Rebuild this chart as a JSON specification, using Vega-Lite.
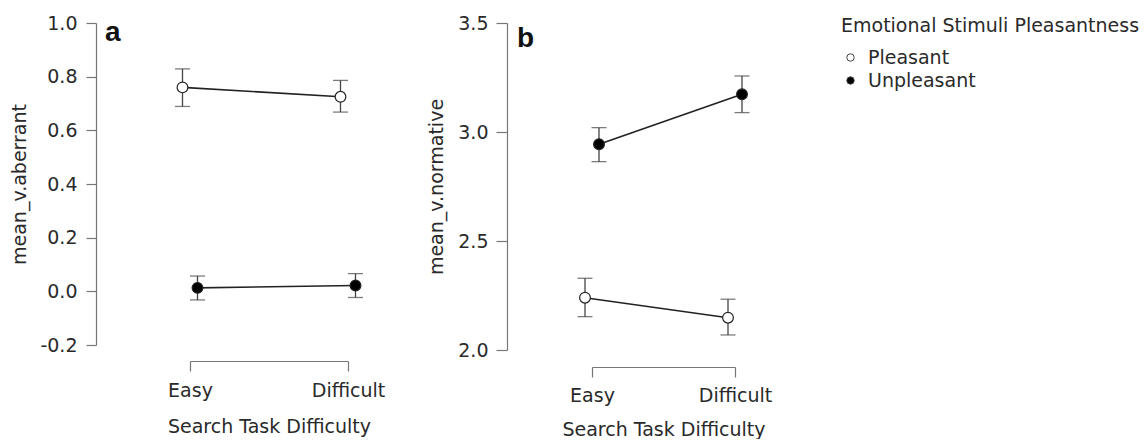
{
  "$schema": "https://vega.github.io/schema/vega-lite/v6.json",
  "background": "white",
  "padding": {"left": 10, "top": 14, "right": 5, "bottom": 0},
  "config": {
    "font": "DejaVu Sans",
    "view": {"stroke": null},
    "axis": {
      "grid": false,
      "domainColor": "#777",
      "tickColor": "#777",
      "domainWidth": 1.2,
      "tickWidth": 1.2,
      "tickSize": 10,
      "labelColor": "#2a2a2a",
      "titleColor": "#2a2a2a",
      "labelFont": "DejaVu Sans",
      "titleFont": "DejaVu Sans",
      "labelFontSize": 19,
      "titleFontSize": 19,
      "titleFontWeight": "normal"
    },
    "title": {"font": "Liberation Sans", "fontWeight": "bold", "fontSize": 28, "color": "#111"}
  },
  "datasets": {
    "a": [
      {"difficulty": "Easy", "pleasantness": "Pleasant", "mean": 0.76, "lo": 0.689, "hi": 0.829},
      {"difficulty": "Difficult", "pleasantness": "Pleasant", "mean": 0.725, "lo": 0.668, "hi": 0.786},
      {"difficulty": "Easy", "pleasantness": "Unpleasant", "mean": 0.013, "lo": -0.032, "hi": 0.057},
      {"difficulty": "Difficult", "pleasantness": "Unpleasant", "mean": 0.022, "lo": -0.023, "hi": 0.066}
    ],
    "b": [
      {"difficulty": "Easy", "pleasantness": "Pleasant", "mean": 2.24, "lo": 2.153, "hi": 2.329},
      {"difficulty": "Difficult", "pleasantness": "Pleasant", "mean": 2.148, "lo": 2.069, "hi": 2.233},
      {"difficulty": "Easy", "pleasantness": "Unpleasant", "mean": 2.944, "lo": 2.864, "hi": 3.02},
      {"difficulty": "Difficult", "pleasantness": "Unpleasant", "mean": 3.173, "lo": 3.089, "hi": 3.257}
    ]
  },
  "bounds": "flush",
  "spacing": 244,
  "resolve": {"scale": {"y": "independent", "x": "independent", "xOffset": "independent"}},
  "hconcat": [
    {
      "width": 158,
      "height": 322,
      "data": {"name": "a"},
      "title": {"text": "a", "anchor": "start", "frame": "group", "orient": "top", "baseline": "alphabetic", "offset": 0, "dx": -85, "dy": 55},
      "encoding": {
        "x": {
          "field": "difficulty", "type": "nominal", "sort": ["Easy", "Difficult"],
          "scale": {"type": "point", "padding": 0},
          "title": "Search Task Difficulty",
          "axis": {"labelAngle": 0, "offset": 16, "labelPadding": 10, "titlePadding": 17}
        },
        "xOffset": {
          "field": "pleasantness", "type": "nominal",
          "scale": {"type": "point", "domain": ["Pleasant", "Unpleasant"], "range": [-7.5, 7.5], "padding": 0}
        }
      },
      "layer": [
        {
          "mark": {"type": "line", "color": "#222", "strokeWidth": 1.6},
          "encoding": {
            "y": {
              "field": "mean", "type": "quantitative", "title": "mean_v.aberrant",
              "scale": {"domain": [-0.2, 1.0], "nice": false, "zero": false},
              "axis": {"values": [-0.2, 0, 0.2, 0.4, 0.6, 0.8, 1.0], "offset": 94, "labelPadding": 9, "titlePadding": 10,
                       "labelExpr": "datum.value < 0 ? '-' + format(-datum.value, '.1f') : format(datum.value, '.1f')"}
            },
            "detail": {"field": "pleasantness"}
          }
        },
        {
          "mark": {"type": "rule", "color": "#444", "strokeWidth": 1.3},
          "encoding": {
            "y": {"field": "lo", "type": "quantitative", "title": "mean_v.aberrant"},
            "y2": {"field": "hi"}
          }
        },
        {
          "mark": {"type": "tick", "color": "#444", "size": 15, "thickness": 1.3},
          "encoding": {"y": {"field": "lo", "type": "quantitative", "title": "mean_v.aberrant"}}
        },
        {
          "mark": {"type": "tick", "color": "#444", "size": 15, "thickness": 1.3},
          "encoding": {"y": {"field": "hi", "type": "quantitative", "title": "mean_v.aberrant"}}
        },
        {
          "mark": {"type": "point", "shape": "circle", "filled": true, "size": 115, "stroke": "#222", "strokeWidth": 1.2, "opacity": 1},
          "encoding": {
            "y": {"field": "mean", "type": "quantitative", "title": "mean_v.aberrant"},
            "fill": {
              "field": "pleasantness", "type": "nominal",
              "scale": {"domain": ["Pleasant", "Unpleasant"], "range": ["white", "black"]},
              "legend": {
                "orient": "none", "legendX": 651, "legendY": -6,
                "title": "Emotional Stimuli Pleasantness", "titleLimit": 500,
                "titleFontSize": 19, "titleFontWeight": "normal", "titleColor": "#2a2a2a", "titleFont": "DejaVu Sans",
                "labelFontSize": 19, "labelColor": "#2a2a2a", "labelFont": "DejaVu Sans",
                "symbolSize": 55, "symbolStrokeColor": "#444", "symbolStrokeWidth": 1,
                "rowPadding": 3, "titlePadding": 12, "labelOffset": 8
              }
            }
          }
        }
      ]
    },
    {
      "width": 143,
      "height": 327,
      "data": {"name": "b"},
      "title": {"text": "b", "anchor": "start", "frame": "group", "orient": "top", "baseline": "alphabetic", "offset": 0, "dx": -75, "dy": 61},
      "encoding": {
        "x": {
          "field": "difficulty", "type": "nominal", "sort": ["Easy", "Difficult"],
          "scale": {"type": "point", "padding": 0},
          "title": "Search Task Difficulty",
          "axis": {"labelAngle": 0, "offset": 17, "labelPadding": 9, "titlePadding": 15}
        },
        "xOffset": {
          "field": "pleasantness", "type": "nominal",
          "scale": {"type": "point", "domain": ["Pleasant", "Unpleasant"], "range": [-7, 7], "padding": 0}
        }
      },
      "layer": [
        {
          "mark": {"type": "line", "color": "#222", "strokeWidth": 1.6},
          "encoding": {
            "y": {
              "field": "mean", "type": "quantitative", "title": "mean_v.normative",
              "scale": {"domain": [2.0, 3.5], "nice": false, "zero": false},
              "axis": {"values": [2.0, 2.5, 3.0, 3.5], "format": ".1f", "offset": 85, "tickSize": 11, "labelPadding": 8, "titlePadding": 11}
            },
            "detail": {"field": "pleasantness"}
          }
        },
        {
          "mark": {"type": "rule", "color": "#444", "strokeWidth": 1.3},
          "encoding": {
            "y": {"field": "lo", "type": "quantitative", "title": "mean_v.normative"},
            "y2": {"field": "hi"}
          }
        },
        {
          "mark": {"type": "tick", "color": "#444", "size": 15, "thickness": 1.3},
          "encoding": {"y": {"field": "lo", "type": "quantitative", "title": "mean_v.normative"}}
        },
        {
          "mark": {"type": "tick", "color": "#444", "size": 15, "thickness": 1.3},
          "encoding": {"y": {"field": "hi", "type": "quantitative", "title": "mean_v.normative"}}
        },
        {
          "mark": {"type": "point", "shape": "circle", "filled": true, "size": 115, "stroke": "#222", "strokeWidth": 1.2, "opacity": 1},
          "encoding": {
            "y": {"field": "mean", "type": "quantitative", "title": "mean_v.normative"},
            "fill": {
              "field": "pleasantness", "type": "nominal",
              "scale": {"domain": ["Pleasant", "Unpleasant"], "range": ["white", "black"]}
            }
          }
        }
      ]
    }
  ]
}
